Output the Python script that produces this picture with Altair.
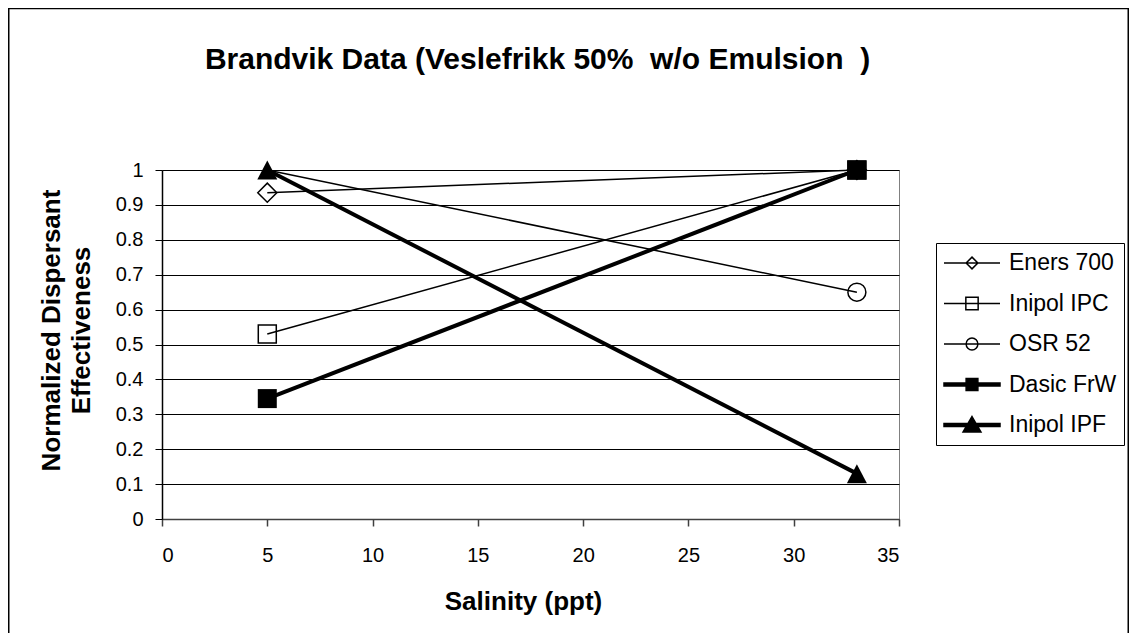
import altair as alt
import pandas as pd

# ---------------- data ----------------
series_names = ["Eners 700", "Inipol IPC", "OSR 52", "Dasic FrW", "Inipol IPF"]
salinity = [5, 33]
eners_700 = [0.935, 1.0]
inipol_ipc = [0.53, 1.0]
osr_52 = [1.0, 0.65]
dasic_frw = [0.345, 1.0]
inipol_ipf = [1.0, 0.13]
x_tick_values = [0, 5, 10, 15, 20, 25, 30, 35]
y_tick_values = [0, 0.1, 0.2, 0.3, 0.4, 0.5, 0.6, 0.7, 0.8, 0.9, 1.0]

series_values = [eners_700, inipol_ipc, osr_52, dasic_frw, inipol_ipf]
rows = []
for name, vals in zip(series_names, series_values):
    for s, v in zip(salinity, vals):
        rows.append({"series": name, "salinity": s, "value": v})
df = pd.DataFrame(rows)

# ---------------- styles ----------------
FONT = "Liberation Sans"
TRI = "M0,-0.95L1,0.95L-1,0.95Z"
marker_style = {
    "Eners 700": dict(shape="diamond", filled=False, size=361, line=1.5),
    "Inipol IPC": dict(shape="square", filled=False, size=324, line=1.5),
    "OSR 52": dict(shape="circle", filled=False, size=324, line=1.5, hide_at=5),
    "Dasic FrW": dict(shape="square", filled=True, size=361, line=4),
    "Inipol IPF": dict(shape=TRI, filled=True, size=400, line=4),
}
legend_paths = [
    "M-1,0L1,0M0,-0.21L0.21,0L0,0.21L-0.21,0Z",
    "M-1,0L1,0M-0.22,-0.22L0.22,-0.22L0.22,0.22L-0.22,0.22Z",
    "M-1,0L1,0M-0.21,0A0.21,0.21 0 1,0 0.21,0A0.21,0.21 0 1,0 -0.21,0Z",
    "M-1,-0.05L1,-0.05L1,0.05L-1,0.05ZM-0.21,-0.21L0.21,-0.21L0.21,0.21L-0.21,0.21Z",
    "M-1,-0.05L1,-0.05L1,0.05L-1,0.05ZM0,-0.3L0.32,0.25L-0.32,0.25Z",
]
legend_fills = ["transparent", "transparent", "transparent", "black", "black"]
legend_strokes = ["black"] * 5

x_enc = alt.X(
    "salinity:Q",
    scale=alt.Scale(domain=[0, 35], nice=False, zero=False),
    axis=alt.Axis(
        values=x_tick_values,
        title="Salinity (ppt)",
        grid=False,
        domainColor="#404040",
        domainWidth=1.5,
        tickColor="#404040",
        tickWidth=1.5,
        tickSize=7,
        labelFont=FONT,
        labelFontSize=20,
        labelColor="black",
        labelPadding=19,
        titleFont=FONT,
        titleFontSize=26,
        titleFontWeight="bold",
        titleColor="black",
        titleX=361,
        titleY=82,
        titleBaseline="middle",
        titleAlign="center",
    ),
)
y_enc = alt.Y(
    "value:Q",
    scale=alt.Scale(domain=[0, 1], nice=False),
    axis=alt.Axis(
        values=y_tick_values,
        format="~g",
        title=["Normalized Dispersant", "Effectiveness"],
        grid=True,
        gridColor="black",
        gridWidth=1,
        domainColor="black",
        domainWidth=1.5,
        tickColor="black",
        tickWidth=1,
        tickSize=7,
        labelFont=FONT,
        labelFontSize=20,
        labelColor="black",
        labelPadding=12,
        titleFont=FONT,
        titleFontSize=26,
        titleFontWeight="bold",
        titleColor="black",
        titleX=-111,
        titleY=160,
        titleAngle=270,
        titleAlign="center",
        titleBaseline="middle",
        titleLineHeight=30,
    ),
)

border = alt.Chart(pd.DataFrame({"k": [0]})).mark_rect(
    fill="transparent", stroke="black", strokeWidth=1.5
).encode(
    x=alt.value(-153.25), x2=alt.value(966.25), y=alt.value(-161.5), y2=alt.value(480)
)

layers = [border]
for name in series_names:
    st = marker_style[name]
    base = alt.Chart(df).transform_filter(alt.datum.series == name)
    line = base.mark_line(color="black", strokeWidth=st["line"]).encode(x=x_enc, y=y_enc)
    pbase = base
    if "hide_at" in st:
        pbase = base.transform_filter(alt.datum.salinity != st["hide_at"])
    if st["filled"]:
        pt = pbase.mark_point(
            shape=st["shape"], filled=True, color="black", size=st["size"], opacity=1
        ).encode(x=x_enc, y=y_enc)
    else:
        pt = pbase.mark_point(
            shape=st["shape"], filled=False, color="black", strokeWidth=1.5,
            size=st["size"], opacity=1
        ).encode(x=x_enc, y=y_enc)
    layers += [line, pt]

leg = alt.Legend(
    title=None,
    orient="none",
    legendX=774,
    legendY=73,
    symbolSize=3136,
    symbolStrokeWidth=1.5,
    symbolOpacity=1,
    symbolOffset=0,
    clipHeight=26,
    labelFont=FONT,
    labelFontSize=23,
    labelColor="black",
    labelOffset=8,
    labelLimit=400,
    padding=7,
    rowPadding=14.5,
    strokeColor="black",
    fillColor="white",
)
legend_layer = alt.Chart(df).transform_filter("false").mark_point(
    filled=True, strokeWidth=1.5, size=3136, opacity=1
).encode(
    x=x_enc,
    y=y_enc,
    shape=alt.Shape("series:N", scale=alt.Scale(domain=series_names, range=legend_paths), legend=leg),
    fill=alt.Fill("series:N", scale=alt.Scale(domain=series_names, range=legend_fills), legend=leg),
    stroke=alt.Stroke("series:N", scale=alt.Scale(domain=series_names, range=legend_strokes), legend=leg),
)
layers.append(legend_layer)

chart = alt.layer(*layers).properties(
    width=737,
    height=349,
    autosize=alt.AutoSizeParams(type="none"),
    padding={"left": 154, "top": 162, "right": 230, "bottom": 114},
    title=alt.TitleParams(
        text="Brandvik Data (Veslefrikk 50%\u00a0 w/o Emulsion\u00a0 )",
        font=FONT,
        fontSize=30,
        fontWeight="bold",
        color="black",
        anchor="middle",
        frame="group",
        baseline="alphabetic",
        offset=0,
        dx=7,
        dy=91,
    ),
).configure_view(stroke="#808080", strokeWidth=1)

chart.save("out.html", embed_options={"renderer": "svg", "actions": False})
